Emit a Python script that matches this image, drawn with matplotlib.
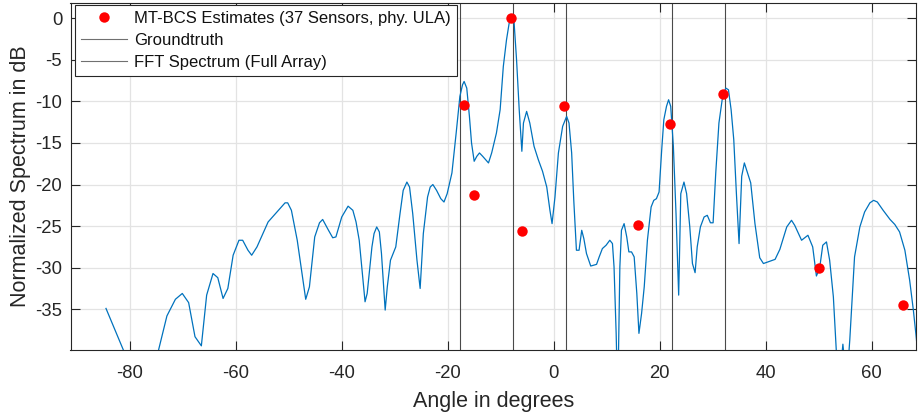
import matplotlib
matplotlib.use("Agg")
import matplotlib.pyplot as plt
from matplotlib.lines import Line2D
import numpy as np

# FFT spectrum of the full array (angle in degrees, normalized dB)
fft_angle = [
    -84.5, -80.5, -78.0, -75.0, -73.0, -71.4, -70.1, -68.9, -67.7, -66.5,
    -65.5, -64.3, -63.4, -62.4, -61.5, -60.5, -59.4, -58.7, -57.7, -57.0,
    -56.0, -53.9, -50.7, -50.2, -49.5, -48.4, -46.8, -46.1, -45.1, -44.2,
    -43.6, -42.5, -41.7, -41.1, -40.0, -38.8, -37.9, -37.3, -36.7, -35.6,
    -35.2, -34.3, -33.9, -33.4, -32.9, -32.5, -31.8, -31.4, -30.8, -29.8,
    -29.0, -28.4, -27.7, -27.2, -26.6, -25.8, -25.2, -24.6, -23.8, -23.3,
    -22.8, -22.1, -21.3, -20.7, -20.1, -19.2, -18.4, -17.7, -17.2, -16.9,
    -16.4, -15.9, -15.5, -15.0, -14.5, -14.0, -13.4, -12.3, -11.7, -10.8,
    -10.1, -9.5, -8.9, -8.4, -7.9, -7.5, -7.0, -6.5, -6.0, -5.7,
    -5.1, -4.5, -3.7, -2.9, -2.1, -1.3, -0.7, -0.3, 0.25, 0.9,
    1.7, 2.45, 2.9, 3.4, 3.8, 4.3, 4.8, 5.3, 5.7, 6.2,
    7.0, 8.1, 8.6, 9.2, 9.9, 10.6, 11.1, 11.4, 11.8, 12.1,
    12.5, 12.8, 13.3, 13.8, 14.2, 14.7, 15.2, 15.7, 16.1, 16.6,
    17.1, 17.7, 18.4, 18.9, 19.4, 19.9, 20.4, 20.8, 21.3, 21.7,
    22.1, 22.6, 23.1, 23.6, 24.0, 24.6, 25.1, 25.7, 26.2, 26.7,
    27.1, 27.7, 28.4, 29.0, 29.6, 30.1, 30.6, 31.2, 31.9, 32.5,
    33.0, 33.5, 34.0, 34.5, 35.0, 35.5, 36.0, 36.5, 37.2, 38.0,
    38.9, 39.6, 40.5, 41.8, 42.7, 44.0, 44.9, 45.5, 46.8, 48.0,
    48.9, 49.3, 49.6, 50.2, 50.8, 51.5, 52.1, 52.8, 53.4, 53.9,
    54.6, 55.3, 55.9, 56.8, 57.8, 58.7, 59.7, 60.4, 61.1, 62.2,
    63.5, 64.4, 65.3, 66.3, 67.2, 67.9, 68.4, 69.0,
]
fft_db = [
    -34.9, -41.0, -46.0, -41.0, -35.8, -33.8, -33.1, -34.2, -38.3, -39.4,
    -33.3, -30.7, -31.2, -33.7, -32.5, -28.5, -26.7, -26.7, -27.9, -28.5,
    -27.5, -24.5, -22.2, -22.2, -23.1, -26.7, -33.8, -32.3, -26.3, -24.6,
    -24.2, -25.5, -26.4, -26.3, -23.9, -22.6, -23.1, -24.5, -26.7, -34.1,
    -33.1, -27.5, -25.9, -25.1, -25.7, -28.3, -35.1, -32.3, -29.1, -27.5,
    -23.5, -20.7, -19.7, -20.3, -23.5, -29.1, -32.5, -25.9, -21.5, -20.3,
    -20.0, -20.7, -21.7, -22.1, -21.1, -18.6, -13.8, -9.4, -8.0, -7.6,
    -8.4, -11.8, -15.0, -17.2, -16.6, -16.2, -16.6, -17.4, -16.2, -13.8,
    -11.0, -5.8, -2.6, -0.6, 0.0, -0.2, -5.0, -11.0, -16.0, -12.6,
    -11.2, -12.6, -15.4, -17.0, -18.4, -20.3, -23.1, -24.7, -21.5, -16.2,
    -13.0, -11.8, -12.6, -16.2, -21.9, -27.9, -27.9, -25.5, -26.5, -28.3,
    -29.8, -29.6, -28.7, -27.7, -27.3, -26.7, -27.1, -29.9, -37.9, -46.0,
    -29.9, -25.5, -24.7, -26.3, -28.1, -28.1, -28.7, -33.1, -37.9, -35.5,
    -32.3, -26.7, -22.7, -21.9, -21.7, -20.9, -15.8, -12.2, -10.6, -9.8,
    -10.6, -15.4, -23.5, -33.3, -21.1, -19.7, -21.1, -25.1, -29.5, -30.6,
    -27.5, -25.1, -23.9, -23.7, -24.6, -24.6, -18.6, -12.6, -9.4, -8.4,
    -8.6, -11.0, -14.6, -21.1, -27.1, -19.0, -17.4, -18.4, -19.8, -24.7,
    -28.8, -29.5, -29.3, -29.0, -27.8, -25.1, -24.3, -24.9, -26.7, -26.1,
    -27.5, -29.5, -31.0, -30.1, -27.3, -26.9, -29.1, -33.5, -40.5, -44.0,
    -39.2, -44.0, -38.7, -28.7, -25.1, -23.3, -22.2, -21.9, -22.1, -23.1,
    -24.2, -24.8, -25.7, -27.9, -31.5, -35.1, -38.1, -42.0,
]

# true source directions
gt_angle = [-17.6, -7.6, 2.4, 22.4, 32.4]

# MT-BCS estimates
est_angle = [-17.0, -15.0, -8.0, -6.0, 2.0, 16.0, 22.0, 32.0, 50.0, 66.0]
est_db = [-10.4, -21.3, 0.0, -25.6, -10.5, -24.9, -12.7, -9.1, -30.0, -34.5]

plt.rcParams['font.family'] = ['Liberation Sans', 'DejaVu Sans']
plt.rcParams['axes.unicode_minus'] = False
dark = '#262626'

fig = plt.figure(figsize=(9.18, 4.17), dpi=100)
ax = fig.add_axes([70.5/918, 1-350/417, (916-70.5)/918, (350-3.3)/417])

for g in gt_angle:
    ax.axvline(g, color='#4a4a4a', lw=0.8, zorder=2)
ax.plot(fft_angle, fft_db, color='#0072BD', lw=0.9, zorder=3)
ax.plot(est_angle, est_db, 'o', color='red', ms=7.5, mec='none', zorder=4)

ax.set_xlim(-91.2, 68.4)
ax.set_ylim(-39.9, 1.8)
ax.set_xticks(np.arange(-80, 61, 20))
ax.set_yticks(np.arange(-35, 1, 5))
ax.grid(True, color='#e3e3e3', lw=0.9, zorder=0)
ax.set_axisbelow(True)
ax.tick_params(direction='in', top=True, right=True, length=6.5, width=0.8,
               labelsize=13.3, colors=dark, pad=6)
ax.tick_params(axis='x', pad=11)
for s in ax.spines.values():
    s.set_color(dark)
    s.set_linewidth(0.8)

ax.set_xlabel('Angle in degrees', fontsize=15.5, color=dark, labelpad=6)
ax.set_ylabel('Normalized Spectrum in dB', fontsize=15.5, color=dark, labelpad=3)

handles = [
    Line2D([], [], ls='none', marker='o', color='red', ms=7.5, mec='none'),
    Line2D([], [], color='#707070', lw=0.8),
    Line2D([], [], color='#707070', lw=0.8),
]
labels = ['MT-BCS Estimates (37 Sensors, phy. ULA)', 'Groundtruth',
          'FFT Spectrum (Full Array)']
leg = ax.legend(handles, labels, loc='upper left',
                bbox_to_anchor=(4.5/845.5, 1-2/346.7), borderaxespad=0,
                fontsize=12, frameon=True, fancybox=False, framealpha=1,
                edgecolor=dark, handlelength=2.75, handletextpad=0.45,
                borderpad=0.35, labelspacing=0.42)
leg.get_frame().set_linewidth(0.8)
for t in leg.get_texts():
    t.set_color('#111111')

fig.savefig('out.png', dpi=100)
